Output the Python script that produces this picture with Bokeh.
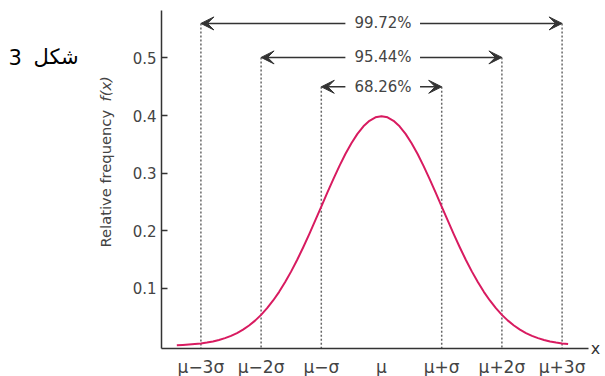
import math
from bokeh.plotting import figure
from bokeh.models import (Range1d, FixedTicker, Label, Arrow, VeeHead, ColumnDataSource,
                          LinearAxis)
from bokeh.core.properties import value
from bokeh.embed import file_html
from bokeh.resources import INLINE

# ---- data (x in sigma units, mu = 0) ----
curve_z = [-3.4, -3.3, -3.2, -3.1, -3.0, -2.9, -2.8, -2.7, -2.6, -2.5, -2.4, -2.3, -2.2, -2.1,
           -2.0, -1.9, -1.8, -1.7, -1.6, -1.5, -1.4, -1.3, -1.2, -1.1, -1.0, -0.9, -0.8, -0.7,
           -0.6, -0.5, -0.4, -0.3, -0.2, -0.1, 0.0, 0.1, 0.2, 0.3, 0.4, 0.5, 0.6, 0.7, 0.8, 0.9,
           1.0, 1.1, 1.2, 1.3, 1.4, 1.5, 1.6, 1.7, 1.8, 1.9, 2.0, 2.1, 2.2, 2.3, 2.4, 2.5, 2.6,
           2.7, 2.8, 2.9, 3.0, 3.1]
curve_f = [0.0012, 0.0017, 0.0024, 0.0033, 0.0044, 0.0060, 0.0079, 0.0104, 0.0136, 0.0175,
           0.0224, 0.0283, 0.0355, 0.0440, 0.0540, 0.0656, 0.0790, 0.0940, 0.1109, 0.1295,
           0.1497, 0.1714, 0.1942, 0.2179, 0.2420, 0.2661, 0.2897, 0.3123, 0.3332, 0.3521,
           0.3683, 0.3814, 0.3910, 0.3970, 0.3989, 0.3970, 0.3910, 0.3814, 0.3683, 0.3521,
           0.3332, 0.3123, 0.2897, 0.2661, 0.2420, 0.2179, 0.1942, 0.1714, 0.1497, 0.1295,
           0.1109, 0.0940, 0.0790, 0.0656, 0.0540, 0.0440, 0.0355, 0.0283, 0.0224, 0.0175,
           0.0136, 0.0104, 0.0079, 0.0060, 0.0044, 0.0033]

tick_pos = [-3, -2, -1, 0, 1, 2, 3]
tick_labels = ["μ−3σ", "μ−2σ", "μ−σ", "μ", "μ+σ", "μ+2σ", "μ+3σ"]
y_ticks = [0.1, 0.2, 0.3, 0.4, 0.5]

band_k = [1, 2, 3]
band_pct = ["68.26%", "95.44%", "99.72%"]
band_level = [0.450, 0.501, 0.560]

fig_word = "شكل"
fig_number = "3"
y_label_main = "Relative frequency"
y_label_fx = "f(x)"
x_label = "x"

# ---- styling / layout ----
FONT = "DejaVu Sans"
TXT = "#444444"
AX = "#333333"

# the plotting frame covers the whole canvas; axes are drawn at fixed data locations
xr0, xr1 = -6.329, 3.721
yr0, yr1 = -0.0530, 0.5998
axis_x = -3.6545          # where the y axis stands
axis_y = -0.0043          # where the x axis lies
x_axis_end = 3.4385
y_axis_top = 0.5825

p = figure(width=605, height=376, output_backend="svg", toolbar_location=None,
           x_range=Range1d(xr0, xr1), y_range=Range1d(yr0, yr1),
           x_axis_location=None, y_axis_location=None,
           min_border_left=0, min_border_right=0, min_border_top=0, min_border_bottom=0,
           background_fill_color="white", border_fill_color="white")
p.outline_line_color = None
p.grid.visible = False

yax = LinearAxis(fixed_location=axis_x, bounds=(axis_y, y_axis_top),
                 ticker=FixedTicker(ticks=y_ticks))
yax.major_tick_in = 6
yax.major_tick_out = 0
yax.minor_tick_line_color = None
yax.major_tick_line_color = AX
yax.major_tick_line_width = 1.5
yax.axis_line_color = AX
yax.axis_line_width = 1.5
yax.major_label_standoff = 5
yax.major_label_text_font = FONT
yax.major_label_text_font_size = "15px"
yax.major_label_text_color = TXT
p.add_layout(yax, "left")

xax = LinearAxis(fixed_location=axis_y, bounds=(axis_x, x_axis_end),
                 ticker=FixedTicker(ticks=tick_pos))
xax.major_label_overrides = {t: l for t, l in zip(tick_pos, tick_labels)}
xax.major_tick_line_color = None
xax.minor_tick_line_color = None
xax.major_tick_in = 0
xax.major_tick_out = 0
xax.axis_line_color = AX
xax.axis_line_width = 1.5
xax.major_label_standoff = 9
xax.major_label_text_font = FONT
xax.major_label_text_font_size = "17px"
xax.major_label_text_color = TXT
p.add_layout(xax, "below")

# dashed sigma lines
dash_x = [s * k for k in band_k for s in (-1, 1)]
dash_top = [lv for lv in band_level for _ in (-1, 1)]
p.segment(x0=dash_x, y0=dash_top, x1=dash_x, y1=[axis_y] * len(dash_x),
          line_color="#666666", line_width=1.5, line_dash="2 2")

# curve
p.line(curve_z, curve_f, line_color="#d81b60", line_width=2, line_join="round")

# arrows
gap_l, gap_r = -0.6, 0.64
arr_src_l = ColumnDataSource(dict(xs=[gap_l] * 3, xe=[-k for k in band_k], y=band_level))
arr_src_r = ColumnDataSource(dict(xs=[gap_r] * 3, xe=[k for k in band_k], y=band_level))
for src in (arr_src_l, arr_src_r):
    p.add_layout(Arrow(end=VeeHead(size=13, fill_color=AX, line_color=AX, line_width=1),
                       x_start="xs", y_start="y", x_end="xe", y_end="y", source=src,
                       line_color=AX, line_width=1.5))

p.text(x=[0.025] * 3, y=band_level, text=band_pct, text_align="center", text_baseline="middle",
       text_font=value(FONT), text_font_size="15px", text_color=TXT)

# free texts: figure caption (number on the left, Arabic word on the right, as drawn)
p.add_layout(Label(x=-6.196, y=0.5009, text=fig_number, text_align="left",
                   text_baseline="alphabetic", text_font=FONT,
                   text_font_size="21px", text_color="black"))
p.add_layout(Label(x=-5.78, y=0.5009, text=fig_word, text_align="left",
                   text_baseline="alphabetic", text_font=FONT,
                   text_font_size="21px", text_color="black"))
# y axis title, upright part then italic f(x)
p.add_layout(Label(x=-4.585, y=0.171, text=y_label_main, angle=math.pi / 2,
                   text_align="left", text_baseline="middle", text_font=FONT,
                   text_font_size="14.7px", text_color=TXT))
p.add_layout(Label(x=-4.585, y=0.4245, text=y_label_fx, angle=math.pi / 2,
                   text_align="left", text_baseline="middle", text_font=FONT,
                   text_font_style="italic", text_font_size="14.7px", text_color=TXT))
p.add_layout(Label(x=3.555, y=axis_y, text=x_label, text_align="center",
                   text_baseline="middle", text_font=FONT,
                   text_font_size="16px", text_color=AX))

open("out.html", "w").write(file_html(p, INLINE))
